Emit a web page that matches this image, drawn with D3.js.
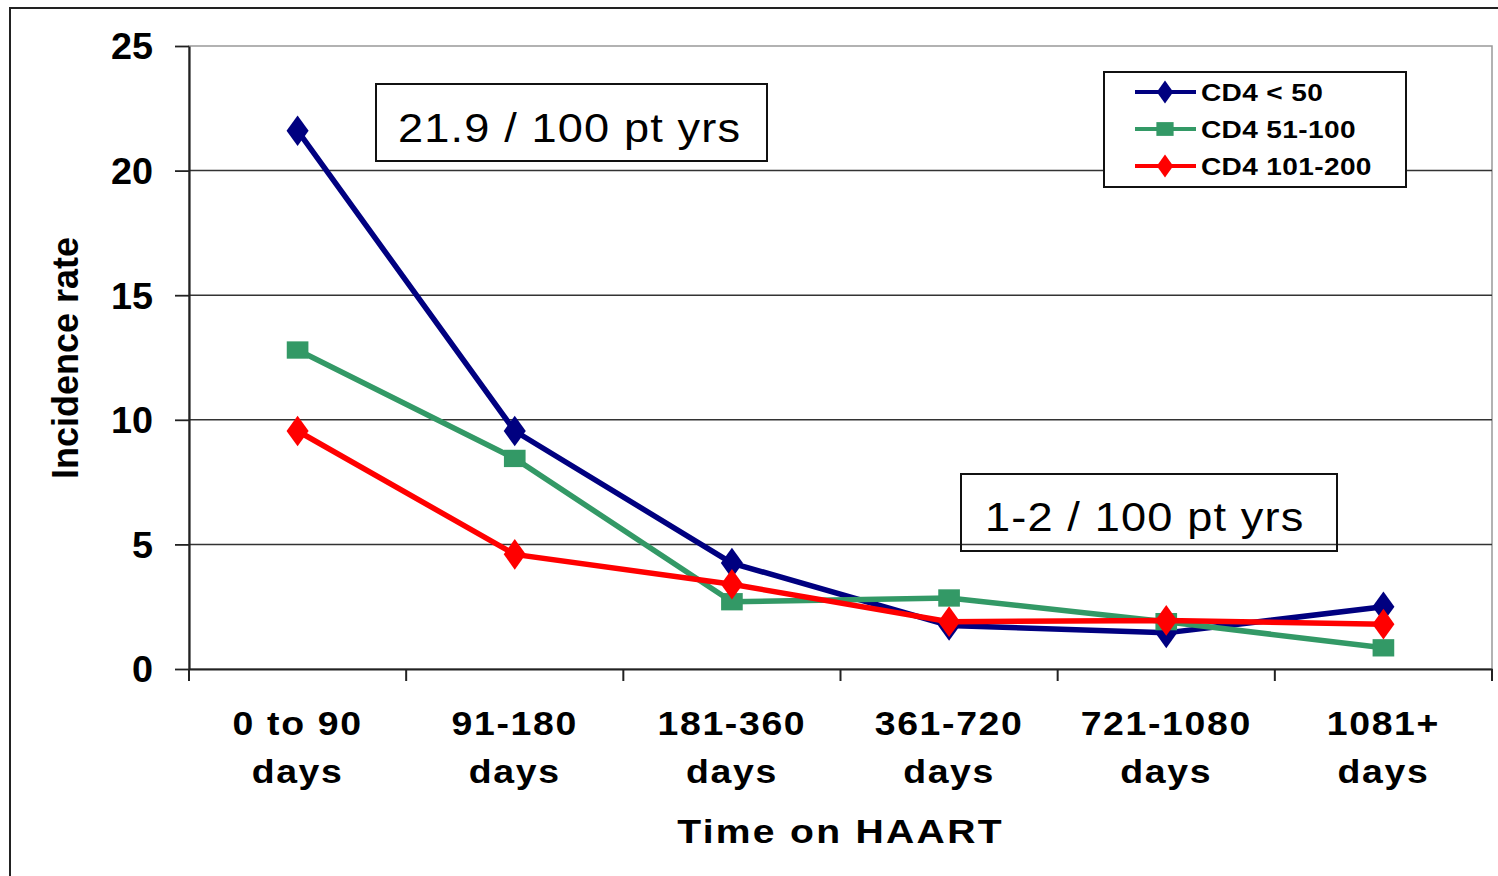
<!DOCTYPE html>
<html>
<head>
<meta charset="utf-8">
<script src="https://cdn.jsdelivr.net/npm/d3@7"></script>
<style>
  body { margin: 0; background: #fff; }
  text { font-family: "Liberation Sans", Arial, sans-serif; }
</style>
</head>
<body>
<div id="chart"></div>
<script>
// data
const categories = ["0 to 90 days", "91-180 days", "181-360 days", "361-720 days", "721-1080 days", "1081+ days"];
const seriesNames = ["CD4 < 50", "CD4 51-100", "CD4 101-200"];
const cd4Under50 = [21.6, 9.55, 4.25, 1.75, 1.45, 2.5];
const cd4From51 = [12.8, 8.45, 2.7, 2.85, 1.9, 0.85];
const cd4From101 = [9.55, 4.6, 3.4, 1.9, 1.95, 1.8];
const yTicks = [0, 5, 10, 15, 20, 25];
const notes = ["21.9 / 100 pt yrs", "1-2 / 100 pt yrs"];

const width = 1498, height = 876;
const margin = { top: 46, right: 6, bottom: 207, left: 189 };
const colors = ["#000080", "#339966", "#ff0000"];
const shapes = [d3.symbolDiamond, d3.symbolSquare, d3.symbolDiamond];

const svg = d3.select("#chart").append("svg")
  .attr("width", width)
  .attr("height", height);

// outer chart border (runs off the right/bottom edge)
svg.append("rect")
  .attr("x", 10).attr("y", 8)
  .attr("width", width).attr("height", height)
  .attr("fill", "none").attr("stroke", "#222").attr("stroke-width", 2);

const x = d3.scaleBand()
  .domain(categories)
  .range([margin.left, width - margin.right]);

const y = d3.scaleLinear()
  .domain([0, 25])
  .range([height - margin.bottom, margin.top]);

// plot area frame (gray)
svg.append("rect")
  .attr("x", margin.left).attr("y", y(25))
  .attr("width", width - margin.right - margin.left)
  .attr("height", y(0) - y(25))
  .attr("fill", "none").attr("stroke", "#999").attr("stroke-width", 1.5);

// gridlines
svg.append("g")
  .selectAll("line")
  .data(yTicks.filter(d => d > 0 && d < 25))
  .enter().append("line")
  .attr("x1", margin.left).attr("x2", width - margin.right)
  .attr("y1", d => y(d)).attr("y2", d => y(d))
  .attr("stroke", "#333").attr("stroke-width", 1.5);

// y axis
const yAxis = svg.append("g")
  .attr("transform", `translate(${margin.left},0)`)
  .call(d3.axisLeft(y).tickValues(yTicks).tickSize(14).tickSizeOuter(0));
yAxis.select(".domain").attr("stroke", "#222").attr("stroke-width", 2.2);
yAxis.selectAll(".tick line").attr("stroke", "#222").attr("stroke-width", 1.8);
yAxis.selectAll(".tick text")
  .attr("x", 0)
  .attr("dy", "0.36em")
  .attr("transform", "translate(-36,0) scale(1.05,1)")
  .attr("font-family", "Liberation Sans, Arial, sans-serif")
  .attr("font-size", 36)
  .attr("font-weight", "bold")
  .attr("fill", "#000");

// x axis
const xAxis = svg.append("g")
  .attr("transform", `translate(0,${y(0)})`)
  .call(d3.axisBottom(x).tickSize(0).tickFormat(""));
xAxis.select(".domain").attr("stroke", "#222").attr("stroke-width", 2.2);

const bounds = categories.map(c => x(c)).concat([x(categories[categories.length - 1]) + x.bandwidth()]);
xAxis.selectAll(".bound")
  .data(bounds)
  .enter().append("line")
  .attr("x1", d => d).attr("x2", d => d)
  .attr("y1", 0).attr("y2", 12)
  .attr("stroke", "#222").attr("stroke-width", 2);

// category labels (two lines)
const catLabels = svg.append("g");
categories.forEach(c => {
  const cut = c.lastIndexOf(" ");
  const lines = [c.slice(0, cut), c.slice(cut + 1)];
  lines.forEach((t, i) => {
    catLabels.append("text")
      .attr("transform", `translate(${x(c) + x.bandwidth() / 2},${735 + i * 48}) scale(1.1,1)`)
      .attr("text-anchor", "middle")
      .attr("font-size", 34)
      .attr("font-weight", "bold")
      .attr("letter-spacing", 1.5)
      .text(t);
  });
});

// axis titles
svg.append("text")
  .attr("transform", `translate(${(margin.left + width - margin.right) / 2},843) scale(1.15,1)`)
  .attr("text-anchor", "middle")
  .attr("font-size", 34)
  .attr("font-weight", "bold")
  .attr("letter-spacing", 2)
  .text("Time on HAART");

svg.append("text")
  .attr("transform", "translate(78,358) rotate(-90)")
  .attr("text-anchor", "middle")
  .attr("font-size", 36)
  .attr("font-weight", "bold")
  .text("Incidence rate");

// series
const series = [cd4Under50, cd4From51, cd4From101];
const line = d3.line()
  .x((d, i) => x(categories[i]) + x.bandwidth() / 2)
  .y(d => y(d));

series.forEach((vals, s) => {
  const g = svg.append("g");
  g.append("path")
    .datum(vals)
    .attr("d", line)
    .attr("fill", "none")
    .attr("stroke", colors[s])
    .attr("stroke-width", 5.5);
  g.selectAll("path.mark")
    .data(vals)
    .enter().append("path")
    .attr("class", "mark")
    .attr("transform", (d, i) => `translate(${x(categories[i]) + x.bandwidth() / 2},${y(d)}) scale(1.25,1)`)
    .attr("d", d3.symbol().type(shapes[s]).size(s === 1 ? 300 : 270))
    .attr("fill", colors[s]);
});

// annotation boxes
const noteBoxes = [
  { x: 376, y: 84, w: 391, h: 77, tx: 398, ty: 142 },
  { x: 961, y: 474, w: 376, h: 77, tx: 985, ty: 531 }
];
notes.forEach((t, i) => {
  const b = noteBoxes[i];
  svg.append("rect")
    .attr("x", b.x).attr("y", b.y).attr("width", b.w).attr("height", b.h)
    .attr("fill", i === 0 ? "#fff" : "none")
    .attr("stroke", "#111").attr("stroke-width", 2);
  svg.append("text")
    .attr("transform", `translate(${b.tx},${b.ty}) scale(1.13,1)`)
    .attr("font-size", 40)
    .attr("letter-spacing", 1)
    .text(t);
});

// legend
const legend = svg.append("g").attr("transform", "translate(1104,72)");
legend.append("rect")
  .attr("width", 302).attr("height", 115)
  .attr("fill", "#fff").attr("stroke", "#111").attr("stroke-width", 2);
seriesNames.forEach((name, i) => {
  const row = legend.append("g").attr("transform", `translate(0,${20 + i * 37})`);
  row.append("line")
    .attr("x1", 31).attr("x2", 92)
    .attr("stroke", colors[i]).attr("stroke-width", 4);
  row.append("path")
    .attr("transform", "translate(61,0) scale(1.25,1)")
    .attr("d", d3.symbol().type(shapes[i]).size(i === 1 ? 190 : 150))
    .attr("fill", colors[i]);
  row.append("text")
    .attr("transform", "translate(97,9) scale(1.17,1)")
    .attr("font-size", 24)
    .attr("font-weight", "bold")
    .attr("letter-spacing", 0.3)
    .text(name);
});
</script>
</body>
</html>
